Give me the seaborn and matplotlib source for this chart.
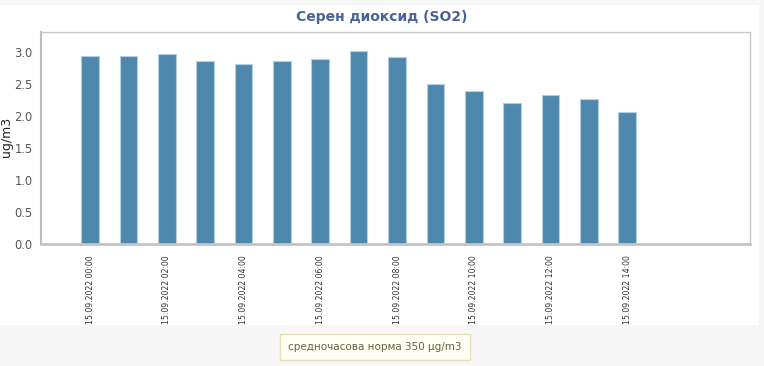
import numpy as np
import pandas as pd
import matplotlib
matplotlib.use("Agg")
import matplotlib.pyplot as plt
import seaborn as sns
from matplotlib.patches import Rectangle

hours = ['00:00', '01:00', '02:00', '03:00', '04:00', '05:00', '06:00', '07:00',
         '08:00', '09:00', '10:00', '11:00', '12:00', '13:00', '14:00']
values = [2.95, 2.95, 2.97, 2.86, 2.82, 2.86, 2.90, 3.03,
          2.93, 2.50, 2.39, 2.21, 2.33, 2.27, 2.07]
tick_hours = ['00:00', '02:00', '04:00', '06:00', '08:00', '10:00', '12:00', '14:00']
date = '15.09.2022'

df = pd.DataFrame({'time': [date + ' ' + h for h in hours], 'value': values})

sns.set_style('white')
plt.rcParams['font.family'] = ['DejaVu Sans']

fig = plt.figure(figsize=(7.64, 3.66), dpi=100)
fig.patch.set_facecolor('#f7f7f7')
# white panel behind the chart
fig.patches.append(Rectangle((0, 41 / 366), 759 / 764, 320 / 366, transform=fig.transFigure,
                             facecolor='white', edgecolor='none', zorder=-5))

ax = fig.add_axes([41 / 764, (366 - 244) / 366, 709 / 764, 212 / 366])
ax.set_facecolor('white')
sns.barplot(data=df, x='time', y='value', order=df['time'], color='#4f88ad', saturation=1,
            width=0.46, edgecolor='#b4cfe0', linewidth=0.8, ax=ax)

ax.set_xlim(-1.28, 17.2)
ax.set_ylim(0, 3.32)
ax.set_yticks(np.arange(0, 3.01, 0.5))
ax.set_yticklabels([f'{v:.1f}' for v in np.arange(0, 3.01, 0.5)], fontsize=8.3, color='#555555')

ticks = list(range(len(hours) + 1))
ax.set_xticks(ticks)
labels = []
for i in ticks:
    h = f'{i:02d}:00'
    labels.append(date + ' ' + h if h in tick_hours else '')
ax.set_xticklabels(labels, rotation=90, fontsize=5.6, color='#333333')
ax.tick_params(axis='x', length=3, color='#b0b0b0', pad=5)
ax.tick_params(axis='y', length=0, pad=6)

ax.set_xlabel('')
ax.set_ylabel('ug/m3', fontsize=9, color='#222222')
ax.yaxis.set_label_coords(-0.04, 0.505)

for side in ['top', 'right']:
    ax.spines[side].set_color('#c8c8c8')
    ax.spines[side].set_linewidth(1)
ax.spines['left'].set_color('#bdbdbd')
ax.spines['left'].set_linewidth(1.5)
ax.spines['bottom'].set_color('#c4c4c4')
ax.spines['bottom'].set_linewidth(2)

fig.text(382 / 764, 1 - 17 / 366, 'Серен диоксид (SO2)', ha='center', va='center',
         fontsize=10, fontweight='bold', color='#4b6394')

fig.text(375 / 764, 1 - 347 / 366, 'средночасова норма 350 µg/m3', ha='center', va='center',
         fontsize=7.5, color='#6b5f45',
         bbox=dict(boxstyle='square,pad=0.75', facecolor='#fffef2', edgecolor='#e6dfb8', linewidth=1))

fig.savefig('out.png', dpi=100, facecolor=fig.get_facecolor())
